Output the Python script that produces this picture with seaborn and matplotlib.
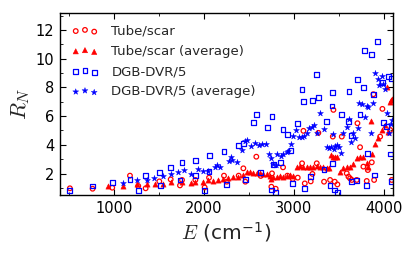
import matplotlib
matplotlib.use("Agg")
import matplotlib.pyplot as plt
from matplotlib.ticker import MultipleLocator
import seaborn as sns

# ---- data ----
tube_E = [511, 763, 981, 1178, 1270, 1352, 1504, 1630, 1733, 1756, 1904, 2007, 2056,
          2222, 2252, 2385, 2437, 2459, 2581, 2630, 2748, 2755, 2796, 2878, 2926, 2985,
          3041, 3089, 3104, 3119, 3185, 3204, 3252, 3270, 3333, 3400, 3430, 3437, 3452,
          3481, 3530, 3585, 3604, 3622, 3641, 3696, 3704, 3733, 3770, 3807, 3819, 3863,
          3881, 3889, 3956, 3981, 4067, 4085]
tube_R = [0.97, 0.94, 1.01, 1.85, 1.13, 0.97, 1.45, 1.59, 1.17, 1.55, 1.55, 1.03, 1.71,
          1.85, 1.43, 1.85, 2.36, 1.43, 3.17, 1.83, 1.08, 2.01, 0.94, 2.43, 1.85, 1.62,
          1.71, 2.71, 4.97, 1.31, 1.45, 1.97, 2.71, 4.83, 1.43, 1.55, 4.57, 6.43, 1.43,
          1.24, 4.57, 2.01, 1.78, 1.66, 1.55, 1.55, 5.5, 3.83, 2.48, 1.48, 2.24, 2.78,
          7.52, 1.55, 4.57, 6.5, 5.03, 1.55]

tube_avg_E = [937, 1104, 1259, 1363, 1455, 1548, 1630, 1752, 1855, 1900, 1993, 2048, 2104,
              2159, 2215, 2270, 2326, 2381, 2437, 2474, 2511, 2548, 2585, 2622, 2659, 2696,
              2733, 2744, 2770, 2807, 2844, 2881, 2918, 2955, 2993, 3030, 3067, 3104, 3141,
              3178, 3215, 3252, 3289, 3326, 3363, 3393, 3407, 3430, 3456, 3481, 3511, 3548,
              3585, 3622, 3659, 3696, 3733, 3770, 3807, 3826, 3852, 3863, 3900, 3937, 3974,
              4011, 4037, 4048, 4067, 4080, 4093]
tube_avg_R = [1.15, 1.15, 1.25, 1.25, 1.25, 1.27, 1.38, 1.43, 1.36, 1.4, 1.43, 1.55, 1.5,
              1.55, 1.6, 1.67, 1.74, 1.78, 1.9, 2.13, 2.08, 2.06, 2.06, 2.01, 1.97, 1.94,
              1.83, 1.6, 1.73, 1.78, 1.83, 1.78, 1.83, 1.87, 1.85, 2.48, 2.53, 2.48, 2.48,
              2.48, 2.46, 2.53, 2.48, 2.43, 2.41, 2.36, 3.29, 3.18, 3.13, 3.13, 2.13, 2.36,
              2.48, 2.43, 2.64, 3.1, 3.18, 3.13, 2.71, 2.43, 5.69, 3.36, 4.06, 4.45, 5.04,
              5.4, 8.0, 4.9, 7.0, 7.1, 7.2]

dgb_E = [511, 763, 981, 1178, 1270, 1352, 1504, 1515, 1630, 1733, 1756, 1904, 1904, 2007,
         2056, 2059, 2222, 2252, 2385, 2437, 2459, 2548, 2581, 2630, 2704, 2748, 2755,
         2770, 2796, 2852, 2878, 2926, 2967, 2985, 3041, 3089, 3104, 3119, 3185, 3204,
         3252, 3270, 3333, 3356, 3400, 3422, 3430, 3430, 3452, 3481, 3530, 3604, 3611,
         3633, 3641, 3696, 3704, 3733, 3770, 3781, 3807, 3819, 3863, 3881, 3889, 3930,
         3981, 3993, 4030, 4048, 4067, 4085, 4085]
dgb_R = [0.8, 1.13, 1.36, 1.6, 0.8, 1.85, 2.08, 1.17, 2.4, 1.55, 2.76, 2.9, 1.85, 0.8,
         2.15, 3.27, 3.52, 1.24, 3.94, 4.1, 1.6, 5.55, 6.08, 2.05, 5.2, 0.85, 5.99,
         2.64, 0.69, 2.78, 5.08, 4.7, 3.62, 1.29, 5.5, 7.83, 7.01, 0.97, 1.78, 7.08,
         8.87, 7.3, 2.27, 5.64, 1.17, 6.7, 7.66, 2.7, 0.85, 0.66, 6.13, 5.64, 7.7,
         4.62, 1.45, 1.52, 8.57, 6.08, 8.01, 10.59, 1.15, 3.41, 10.27, 7.52, 1.9, 11.17,
         8.34, 5.55, 5.27, 8.76, 3.36, 1.45, 8.6]

dgb_avg_E = [1104, 1259, 1363, 1448, 1548, 1630, 1707, 1781, 1856, 1933, 1985, 2044, 2122,
             2148, 2178, 2274, 2300, 2315, 2363, 2426, 2456, 2481, 2526, 2570, 2607, 2644,
             2685, 2722, 2741, 2763, 2800, 2815, 2856, 2878, 2919, 2937, 2963, 2993, 3022,
             3059, 3089, 3115, 3141, 3167, 3196, 3222, 3259, 3289, 3337, 3363, 3393, 3415,
             3430, 3444, 3456, 3481, 3500, 3519, 3548, 3593, 3607, 3633, 3659, 3681, 3707,
             3726, 3752, 3785, 3807, 3826, 3852, 3881, 3904, 3930, 3948, 3974, 3993, 4011,
             4030, 4056, 4074, 4093]
dgb_avg_R = [1.36, 1.52, 1.52, 1.69, 1.83, 1.99, 2.1, 2.27, 1.99, 2.31, 2.2, 2.17, 2.48,
             2.57, 2.48, 2.85, 3.17, 2.94, 2.78, 3.64, 4.24, 4.34, 3.94, 4.1, 3.99, 4.03,
             4.08, 3.36, 3.06, 2.66, 2.62, 3.38, 3.22, 3.36, 3.48, 3.55, 4.06, 4.62, 5.03,
             4.55, 4.55, 4.64, 4.85, 5.15, 5.27, 5.36, 4.85, 6.24, 5.1, 3.87, 3.76, 3.87,
             4.78, 3.73, 3.92, 3.97, 3.87, 3.43, 4.8, 5.22, 5.78, 4.22, 4.8, 4.48, 5.15,
             6.94, 6.85, 5.92, 6.71, 6.62, 4.85, 6.94, 8.99, 8.57, 8.15, 8.76, 8.24, 7.87,
             6.2, 4.85, 5.45, 5.73]

labels = ["Tube/scar", "Tube/scar (average)", "DGB-DVR/5", "DGB-DVR/5 (average)"]
x_ticks = [1000, 2000, 3000, 4000]
y_ticks = [2, 4, 6, 8, 10, 12]

# ---- style ----
sns.set_style("white")
plt.rcParams["font.family"] = ["DejaVu Sans"]
plt.rcParams["mathtext.fontset"] = "custom"
plt.rcParams["mathtext.rm"] = "DejaVu Sans"
plt.rcParams["mathtext.it"] = "cmmi10"
plt.rcParams["mathtext.bf"] = "DejaVu Sans:bold"

fig = plt.figure(figsize=(4.16, 2.58), dpi=100)
ax = fig.add_axes([0.144, 0.244, 0.801, 0.707])

sns.scatterplot(x=tube_E, y=tube_R, ax=ax, marker="o", s=11, facecolor="none",
                edgecolor="red", linewidth=0.9, label=labels[0], legend=False)
sns.scatterplot(x=tube_avg_E, y=tube_avg_R, ax=ax, marker="^", s=14, color="red",
                edgecolor="red", linewidth=0.4, label=labels[1], legend=False)
sns.scatterplot(x=dgb_E, y=dgb_R, ax=ax, marker="s", s=12, facecolor="none",
                edgecolor="blue", linewidth=0.9, label=labels[2], legend=False)
sns.scatterplot(x=dgb_avg_E, y=dgb_avg_R, ax=ax, marker="*", s=20, color="blue",
                edgecolor="blue", linewidth=0.3, label=labels[3], legend=False)

ax.set_xlim(400, 4100)
ax.set_ylim(0.5, 13.2)
ax.set_xticks(x_ticks)
ax.set_yticks(y_ticks)
ax.xaxis.set_minor_locator(MultipleLocator(500))
ax.yaxis.set_minor_locator(MultipleLocator(1))
ax.tick_params(which="both", direction="in", top=True, right=True, bottom=True,
               left=True, labelsize=10.5, colors="black")
ax.tick_params(which="major", length=4, width=0.8, pad=4)
ax.tick_params(which="minor", length=2, width=0.6)
for sp in ax.spines.values():
    sp.set_visible(True)
    sp.set_color("black")
    sp.set_linewidth(1.0)

ax.set_xlabel(r"$E$ (cm$^{-1}$)", fontsize=14.5, labelpad=3)
ax.set_ylabel(r"$R_N$", fontsize=16, labelpad=3)

ax.legend(loc="upper left", frameon=False, scatterpoints=3,
          scatteryoffsets=[0.375, 0.5, 0.3125], fontsize=9.5, handletextpad=1.0,
          labelspacing=0.55, borderaxespad=0.5, handlelength=2.0, borderpad=0.4)

fig.savefig("out.png", dpi=100)
